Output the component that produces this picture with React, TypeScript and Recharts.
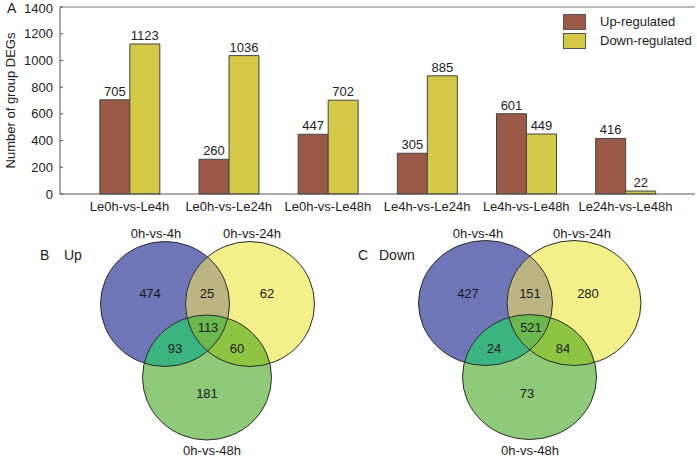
import React from 'react';
import {
  BarChart, Bar, XAxis, YAxis, LabelList, ReferenceLine,
  ScatterChart, Scatter,
} from 'recharts';

const FONT = '"Liberation Sans", Arial, sans-serif';

// panel A
const comparisons = ['Le0h-vs-Le4h', 'Le0h-vs-Le24h', 'Le0h-vs-Le48h', 'Le4h-vs-Le24h', 'Le4h-vs-Le48h', 'Le24h-vs-Le48h'];
const upRegulated = [705, 260, 447, 305, 601, 416];
const downRegulated = [1123, 1036, 702, 885, 449, 22];
const yTicks = [0, 200, 400, 600, 800, 1000, 1200, 1400];
const seriesNames = ['Up-regulated', 'Down-regulated'];

const UP_COLOR = '#9b5a48';
const DOWN_COLOR = '#d4c847';

const barData = comparisons.map((name, i) => ({ name, up: upRegulated[i], down: downRegulated[i] }));

// panels B and C: venn layout in chart units (x across, y down)
const vennSets = ['0h-vs-4h', '0h-vs-24h', '0h-vs-48h'];
const setColors = ['#6e76b8', '#f3ef89', '#8fca79'];
const pairColors = { ab: '#bbb583', ac: '#3cb481', bc: '#8ec442' };
const tripleColor = '#6bb84f';
// ellipse radii (px) for each panel, the figure is slightly stretched
const radii: Record<string, [number, number]> = { up: [64.5, 62.5], dn: [67, 62.5] };

const upCircles = [
  { id: 'up-a', x: 165, y: 84 },
  { id: 'up-b', x: 250, y: 84 },
  { id: 'up-c', x: 207, y: 157.5 },
];
const downCircles = [
  { id: 'dn-a', x: 485.5, y: 83 },
  { id: 'dn-b', x: 574, y: 83 },
  { id: 'dn-c', x: 529.5, y: 157 },
];

// region counts: a only, ab, b only, abc, ac, bc, c only
const upCounts = [474, 25, 62, 113, 93, 60, 181];
const downCounts = [427, 151, 280, 521, 24, 84, 73];
const upCountPos = [[150, 73], [207, 73], [267, 73], [208, 107], [175, 128], [237, 128], [207, 173]];
const downCountPos = [[468, 73], [530, 73], [588, 73], [531, 107], [494, 128], [563, 128], [527, 173]];
const upSetLabelPos = [[156, 13], [252, 13], [212, 230]];
const downSetLabelPos = [[478, 13], [582, 13], [530, 230]];

const panelOf = (id: string) => id.slice(0, 2) === 'up' ? 'up' : 'dn';

const allCircles = [...upCircles, ...downCircles].map((c, i) => ({ ...c, color: setColors[i % 3] }));

const pairFills = [upCircles, downCircles].flatMap((cs) => [
  { id: cs[0].id, x: cs[0].x, y: cs[0].y, clips: [cs[1].id], color: pairColors.ab },
  { id: cs[0].id, x: cs[0].x, y: cs[0].y, clips: [cs[2].id], color: pairColors.ac },
  { id: cs[1].id, x: cs[1].x, y: cs[1].y, clips: [cs[2].id], color: pairColors.bc },
]);
const tripleFills = [upCircles, downCircles].map((cs) => ({
  id: cs[0].id, x: cs[0].x, y: cs[0].y, clips: [cs[1].id, cs[2].id], color: tripleColor,
}));

const countTexts = [
  ...upCounts.map((v, i) => ({ x: upCountPos[i][0], y: upCountPos[i][1], text: String(v) })),
  ...downCounts.map((v, i) => ({ x: downCountPos[i][0], y: downCountPos[i][1], text: String(v) })),
  ...vennSets.map((s, i) => ({ x: upSetLabelPos[i][0], y: upSetLabelPos[i][1], text: s })),
  ...vennSets.map((s, i) => ({ x: downSetLabelPos[i][0], y: downSetLabelPos[i][1], text: s })),
];

const CircleShape = (props: any) => {
  const { cx, cy, payload } = props;
  const [rx, ry] = radii[panelOf(payload.id)];
  return (
    <g>
      <defs>
        <clipPath id={`clip-${payload.id}`}>
          <ellipse cx={cx} cy={cy} rx={rx} ry={ry} />
        </clipPath>
      </defs>
      <ellipse cx={cx} cy={cy} rx={rx} ry={ry} fill={payload.color} />
    </g>
  );
};

const ClippedShape = (props: any) => {
  const { cx, cy, payload } = props;
  const [rx, ry] = radii[panelOf(payload.id)];
  let node: React.ReactNode = <ellipse cx={cx} cy={cy} rx={rx} ry={ry} fill={payload.color} />;
  payload.clips.forEach((id: string) => {
    node = <g clipPath={`url(#clip-${id})`}>{node}</g>;
  });
  return <g>{node}</g>;
};

const OutlineShape = (props: any) => {
  const [rx, ry] = radii[panelOf(props.payload.id)];
  return <ellipse cx={props.cx} cy={props.cy} rx={rx} ry={ry} fill="none" stroke="#2a2a2a" strokeWidth={1} />;
};

const TextShape = (props: any) => (
  <text x={props.cx} y={props.cy} textAnchor="middle" dominantBaseline="central" fontSize={13} fill="#1a1a1a" fontFamily={FONT}>
    {props.payload.text}
  </text>
);

const ChartLegend = () => (
  <div style={{ position: 'absolute', left: 563, top: 12, fontSize: 13, color: '#222' }}>
    {seriesNames.map((label, i) => (
      <div key={label} style={{ display: 'flex', alignItems: 'center', height: 19 }}>
        <span style={{ width: 21, height: 14, background: i === 0 ? UP_COLOR : DOWN_COLOR, border: '1px solid #555', marginRight: 14 }} />
        <span>{label}</span>
      </div>
    ))}
  </div>
);

export default function App() {
  return (
    <div style={{ position: 'absolute', left: 0, top: 0, width: 697, height: 458, background: '#fff', fontFamily: FONT }}>
      <div style={{ position: 'absolute', left: 7, top: 0, fontSize: 14, color: '#222' }}>A</div>
      <div style={{ position: 'absolute', left: 0, top: 0 }}>
        <BarChart width={697} height={220} data={barData} margin={{ top: 7, right: 2, bottom: 0, left: 0 }} barGap={0} barCategoryGap="20%">
          <XAxis
            dataKey="name"
            padding={{ left: 20, right: 20 }}
            tickLine={false}
            axisLine={{ stroke: '#555' }}
            tick={{ fontSize: 13, fill: '#222' }}
            interval={0}
            height={26}
          />
          <YAxis
            domain={[0, 1400]}
            ticks={yTicks}
            width={60}
            tickSize={-3}
            tickMargin={10}
            axisLine={{ stroke: '#555' }}
            tickLine={{ stroke: '#555' }}
            tick={{ fontSize: 13, fill: '#222' }}
            label={{ value: 'Number of group DEGs', angle: -90, position: 'insideLeft', offset: 10, style: { fontSize: 13, fill: '#222', textAnchor: 'middle' } }}
          />
          <YAxis yAxisId="frame" orientation="right" width={0} tick={false} axisLine={{ stroke: '#777' }} />
          <ReferenceLine y={1400} stroke="#777" />
          <Bar dataKey="up" name={seriesNames[0]} fill={UP_COLOR} stroke="#444" strokeWidth={1} isAnimationActive={false}>
            <LabelList dataKey="up" position="top" offset={4} style={{ fontSize: 13, fill: '#222' }} />
          </Bar>
          <Bar dataKey="down" name={seriesNames[1]} fill={DOWN_COLOR} stroke="#444" strokeWidth={1} isAnimationActive={false}>
            <LabelList dataKey="down" position="top" offset={4} style={{ fontSize: 13, fill: '#222' }} />
          </Bar>
        </BarChart>
      </div>
      <ChartLegend />
      <div style={{ position: 'absolute', left: 40, top: 247, fontSize: 14, color: '#222' }}>B</div>
      <div style={{ position: 'absolute', left: 64, top: 247, fontSize: 14, color: '#222' }}>Up</div>
      <div style={{ position: 'absolute', left: 358, top: 247, fontSize: 14, color: '#222' }}>C</div>
      <div style={{ position: 'absolute', left: 379, top: 247, fontSize: 14, color: '#222' }}>Down</div>
      <div style={{ position: 'absolute', left: 0, top: 220 }}>
        <ScatterChart width={697} height={238} margin={{ top: 0, right: 0, bottom: 0, left: 0 }}>
          <XAxis type="number" dataKey="x" domain={[0, 697]} hide />
          <YAxis type="number" dataKey="y" domain={[0, 238]} reversed hide />
          <Scatter data={allCircles} shape={CircleShape} isAnimationActive={false} />
          <Scatter data={pairFills} shape={ClippedShape} isAnimationActive={false} />
          <Scatter data={tripleFills} shape={ClippedShape} isAnimationActive={false} />
          <Scatter data={allCircles} shape={OutlineShape} isAnimationActive={false} />
          <Scatter data={countTexts} shape={TextShape} isAnimationActive={false} />
        </ScatterChart>
      </div>
    </div>
  );
}
